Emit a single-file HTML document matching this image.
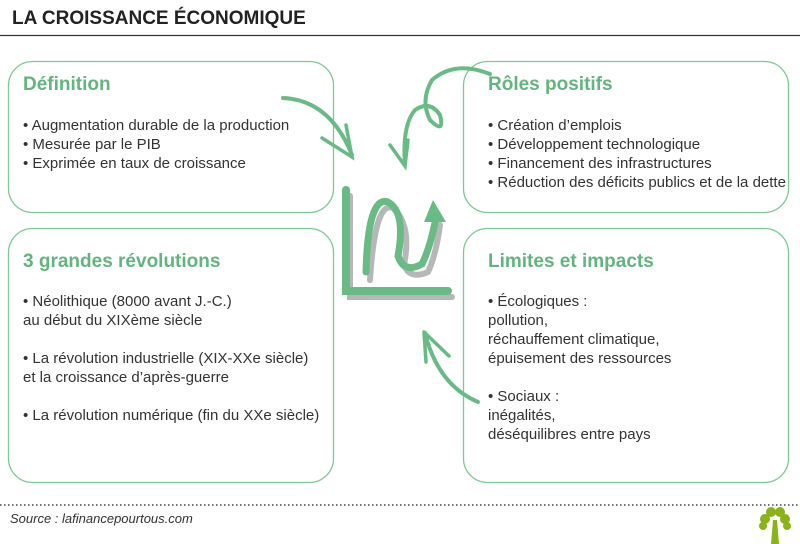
<!DOCTYPE html>
<html><head><meta charset="utf-8"><style>
body{margin:0;width:800px;height:544px;background:#fff;overflow:hidden;font-family:"Liberation Sans",sans-serif;}
svg{position:absolute;left:0;top:0}
.t{position:absolute;color:#333;font-size:15px;line-height:19px;white-space:nowrap}
.h{position:absolute;color:#63b57f;font-weight:bold;font-size:19px}
</style></head><body>
<svg width="800" height="544">
<line x1="0" y1="35.5" x2="800" y2="35.5" stroke="#333" stroke-width="1.2"/>
<g fill="none" stroke="#7cc897" stroke-width="1.3">
<rect x="8.5" y="61.5" width="325" height="151" rx="24"/>
<rect x="463.5" y="61.5" width="325" height="151" rx="24"/>
<rect x="8.5" y="228.5" width="325" height="254" rx="24"/>
<rect x="463.5" y="228.5" width="325" height="254" rx="24"/>
</g>
<line x1="0" y1="505" x2="800" y2="505" stroke="#444" stroke-width="1.5" stroke-dasharray="1.5,2.5"/>
<g fill="none" stroke="#68bb85" stroke-linecap="round">
<path d="M283 98 Q330 100 352 155" stroke-width="4"/>
<path d="M322 138 L352 157 L346 125" stroke-width="3.5"/>
<path d="M490 74 Q455 60 432 80 Q420 100 430 120 Q445 135 440 115 Q430 100 415 110 Q402 125 405 165" stroke-width="4"/>
<path d="M390 145 L405 166 L408 140" stroke-width="3.5"/>
<path d="M478 402 Q438 385 425 333" stroke-width="4"/>
<path d="M424 332 L449 356 M424 332 L426 362" stroke-width="3.5"/>
</g>
<g stroke="#888" fill="none" stroke-width="6" stroke-linecap="round" opacity=".6">
<path d="M350 196 L350 297 L452 297"/>
<path d="M370 280 Q375 200 393 208 Q412 225 404 265 Q410 280 428 272 Q436 255 440 225"/>
</g>
<g stroke="#68bb85" fill="none" stroke-width="8" stroke-linecap="round">
<path d="M346 190 L346 291 L448 291"/>
<path d="M366 272 Q368 195 388 202 Q406 212 398 256 Q404 274 422 264 Q430 248 436 218" stroke-width="7"/>
</g>
<polygon points="433,200 424,222 446,222" fill="#68bb85"/>
<g fill="#8ab31a" transform="translate(775,526)">
<polygon points="-2,-6 2,-6 4,18 -4,18"/>
<circle cx="-10" cy="-7" r="5"/><circle cx="10" cy="-7" r="5"/><circle cx="-4" cy="-14" r="5"/><circle cx="5" cy="-14" r="5"/><circle cx="-12" cy="0" r="4"/><circle cx="12" cy="0" r="4"/>
</g>
</svg>
<div class="t" style="left:12px;top:9px;font-size:19px;font-weight:bold;color:#222">LA CROISSANCE ÉCONOMIQUE</div>
<div class="h" style="left:23px;top:74px">Définition</div>
<div class="t" style="left:23px;top:116px">• Augmentation durable de la production<br>• Mesurée par le PIB<br>• Exprimée en taux de croissance</div>
<div class="h" style="left:488px;top:74px">Rôles positifs</div>
<div class="t" style="left:488px;top:116px">• Création d’emplois<br>• Développement technologique<br>• Financement des infrastructures<br>• Réduction des déficits publics et de la dette</div>
<div class="h" style="left:23px;top:251px">3 grandes révolutions</div>
<div class="t" style="left:23px;top:292px">• Néolithique (8000 avant J.-C.)<br>au début du XIXème siècle<br><br>• La révolution industrielle (XIX-XXe siècle)<br>et la croissance d’après-guerre<br><br>• La révolution numérique (fin du XXe siècle)</div>
<div class="h" style="left:488px;top:251px">Limites et impacts</div>
<div class="t" style="left:488px;top:292px">• Écologiques :<br>pollution,<br>réchauffement climatique,<br>épuisement des ressources<br><br>• Sociaux :<br>inégalités,<br>déséquilibres entre pays</div>
<div class="t" style="left:10px;top:509px;font-style:italic;font-size:13px">Source : lafinancepourtous.com</div>
</body></html>
